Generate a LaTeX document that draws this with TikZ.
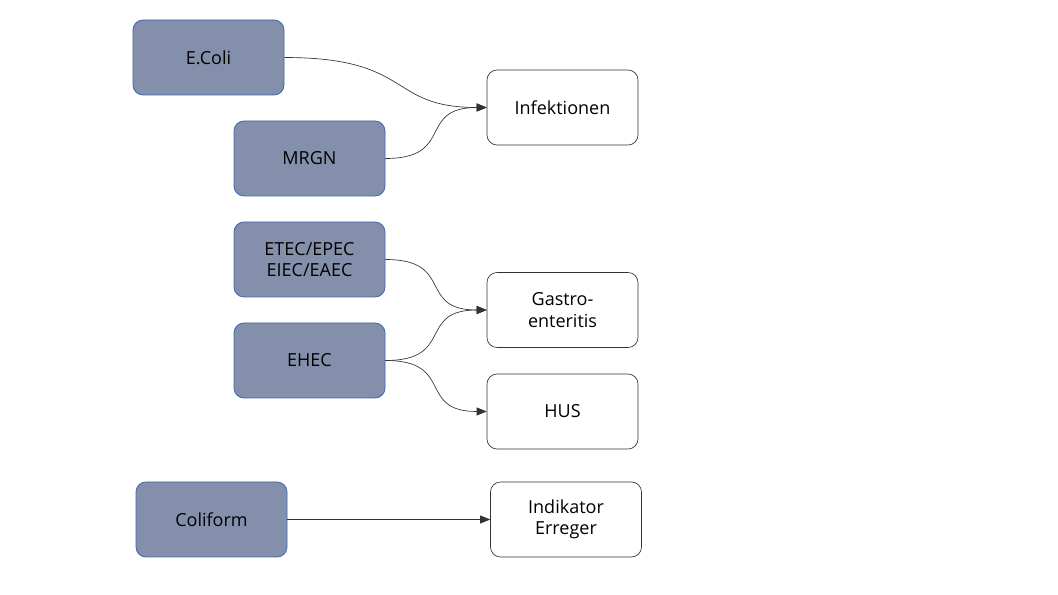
\documentclass[tikz,border=0pt]{standalone}
\usepackage{fontspec}
\setmainfont{Open Sans}
\usetikzlibrary{arrows.meta}
\definecolor{darkfill}{HTML}{8490AB}
\definecolor{darkborder}{HTML}{3F66AE}
\definecolor{lineclr}{HTML}{333333}
\tikzset{
  srcbox/.style={draw=darkborder, fill=darkfill, rounded corners=7.5pt, line width=0.6pt,
    minimum width=113.25pt, minimum height=56.25pt, align=center, inner sep=0pt,
    font=\fontsize{13.5pt}{16pt}\selectfont, text=black},
  tgtbox/.style={draw=lineclr, fill=white, rounded corners=7.5pt, line width=0.5pt,
    minimum width=113.25pt, minimum height=56.25pt, align=center, inner sep=0pt,
    font=\fontsize{13.5pt}{16pt}\selectfont, text=black},
  conn/.style={draw=lineclr, line width=0.5pt, -{Triangle[length=7.5pt,width=6pt]}}
}
\begin{document}
\begin{tikzpicture}[x=0.75pt,y=-0.75pt]
\useasboundingbox (0,0) rectangle (1058,595);
\node[srcbox] (ecoli) at (208.5,57.5) {E.Coli};
\node[srcbox] (mrgn) at (309.5,158.5) {MRGN};
\node[srcbox] (etec) at (309.5,259.5) {ETEC/EPEC\\EIEC/EAEC};
\node[srcbox] (ehec) at (309.5,360.5) {EHEC};
\node[srcbox] (coli) at (211.5,519.5) {Coliform};
\node[tgtbox] (inf) at (562.5,107.5) {Infektionen};
\node[tgtbox] (gastro) at (562.5,310) {Gastro-\\enteritis};
\node[tgtbox] (hus) at (562.5,411.5) {HUS};
\node[tgtbox] (ind) at (566,519.5) {Indikator\\Erreger};
\draw[conn] (ecoli.east) .. controls +(130,0) and +(-100,0) .. (inf.west);
\draw[conn] (mrgn.east) .. controls +(70,0) and +(-70,0) .. (inf.west);
\draw[conn] (etec.east) .. controls +(70,0) and +(-70,0) .. (gastro.west);
\draw[conn] (ehec.east) .. controls +(70,0) and +(-70,0) .. (gastro.west);
\draw[conn] (ehec.east) .. controls +(70,0) and +(-70,0) .. (hus.west);
\draw[conn] (coli.east) -- (ind.west);
\end{tikzpicture}
\end{document}
